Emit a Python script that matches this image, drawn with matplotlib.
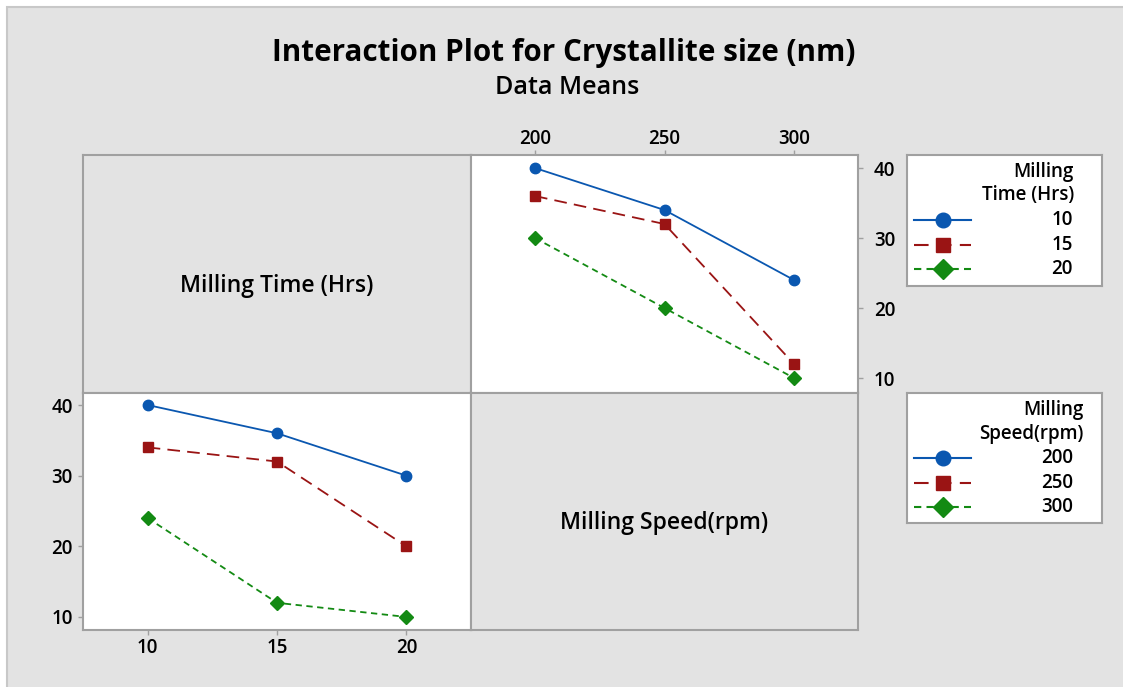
import numpy as np
import matplotlib as mpl
mpl.use("Agg")
import matplotlib.pyplot as plt
from matplotlib.patches import Rectangle
from matplotlib.lines import Line2D

plt.rcParams["font.family"] = ["Open Sans", "DejaVu Sans"]

# data means: rows = milling time, cols = milling speed
time_levels = [10, 15, 20]
speed_levels = [200, 250, 300]
means = np.array([
    [40, 34, 24],
    [36, 32, 12],
    [30, 20, 10],
])
yticks = [10, 20, 30, 40]

W, H = 1123, 687
bg = "#e3e3e3"
frame = "#a0a0a0"
colors = ["#0a57b0", "#9a1414", "#138a13"]
markers = ["o", "s", "D"]
msizes = [7.5, 7.5, 7.5]
dashes = [None, (7, 4), (3.5, 2.5)]

fig = plt.figure(figsize=(W / 100, H / 100), dpi=100, facecolor="white")
fig.patches.append(Rectangle((7 / W, -0.01), 1.02, 1 - 7 / H + 0.01, transform=fig.transFigure,
                             facecolor=bg, edgecolor="#c8c8c8", lw=1.5, zorder=-10))


def px_axes(x0, y0, x1, y1):
    return fig.add_axes([x0 / W, 1 - y1 / H, (x1 - x0) / W, (y1 - y0) / H])


def style(ax, face):
    ax.set_facecolor(face)
    for s in ax.spines.values():
        s.set_color(frame)
        s.set_linewidth(1.5)
    ax.tick_params(colors=frame, labelcolor="black", length=3.5, width=1,
                   labelsize=13.5)
    for lab in ax.get_xticklabels() + ax.get_yticklabels():
        lab.set_fontweight("semibold")


def draw_lines(ax, x, series):
    for k, ys in enumerate(series):
        ln, = ax.plot(x, ys, color=colors[k], marker=markers[k], ms=msizes[k], lw=1.3)
        if dashes[k] is not None:
            ln.set_dashes(dashes[k])


tl = px_axes(83, 155, 471, 393)
tr = px_axes(471, 155, 858, 393)
bl = px_axes(83, 393, 471, 630)
br = px_axes(471, 393, 858, 630)

for ax in (tl, br):
    ax.set_xticks([])
    ax.set_yticks([])
    style(ax, bg)
tl.text(0.5, 0.45, "Milling Time (Hrs)", transform=tl.transAxes, ha="center", va="center",
        fontsize=16.5, fontweight="semibold")
br.text(0.5, 0.45, "Milling Speed(rpm)", transform=br.transAxes, ha="center", va="center",
        fontsize=16.5, fontweight="semibold")

# top right: x = speed, lines = time
draw_lines(tr, speed_levels, means)
tr.set_xlim(175.3, 324.7)
tr.set_ylim(7.86, 41.86)
tr.set_xticks(speed_levels)
tr.set_yticks(yticks)
tr.xaxis.tick_top()
tr.yaxis.tick_right()
style(tr, "white")
tr.tick_params(axis="x", pad=1)
tr.tick_params(axis="y", pad=8)

# bottom left: x = time, lines = speed
draw_lines(bl, time_levels, means.T)
bl.set_xlim(7.5, 22.5)
bl.set_ylim(8.15, 41.7)
bl.set_xticks(time_levels)
bl.set_yticks(yticks)
style(bl, "white")
bl.tick_params(axis="x", pad=2)
bl.tick_params(axis="y", pad=4)

fig.text(564 / W, 1 - 53 / H, "Interaction Plot for Crystallite size (nm)", ha="center", va="center",
         fontsize=21.3, fontweight="bold")
fig.text(567 / W, 1 - 88 / H, "Data Means", ha="center", va="center", fontsize=18,
         fontweight="semibold")


def legend_box(y0, y1, title_lines, labels, title_y, entry_y, right):
    lg = px_axes(907, y0, 1102, y1)
    lg.set_xlim(907, 1102)
    lg.set_ylim(y1, y0)
    lg.set_xticks([])
    lg.set_yticks([])
    style(lg, "white")
    for t, yy in zip(title_lines, title_y):
        lg.text(right, yy, t, ha="right", va="center", fontsize=13.5, fontweight="semibold")
    for k, (lab, yy) in enumerate(zip(labels, entry_y)):
        ln = Line2D([914, 971], [yy, yy], color=colors[k], lw=1.5)
        if dashes[k] is not None:
            ln.set_dashes(dashes[k])
        lg.add_line(ln)
        lg.plot([943], [yy], color=colors[k], marker=markers[k], ms=msizes[k] + 3)
        lg.text(1073, yy, str(lab), ha="right", va="center", fontsize=13.5, fontweight="semibold")


legend_box(155, 286, ["Milling", "Time (Hrs)"], time_levels, [172, 195], [220, 245, 269], 1074)
legend_box(393, 523, ["Milling", "Speed(rpm)"], speed_levels, [410, 434], [458, 483, 507], 1084)

fig.savefig("out.png", dpi=100, facecolor=fig.get_facecolor())
